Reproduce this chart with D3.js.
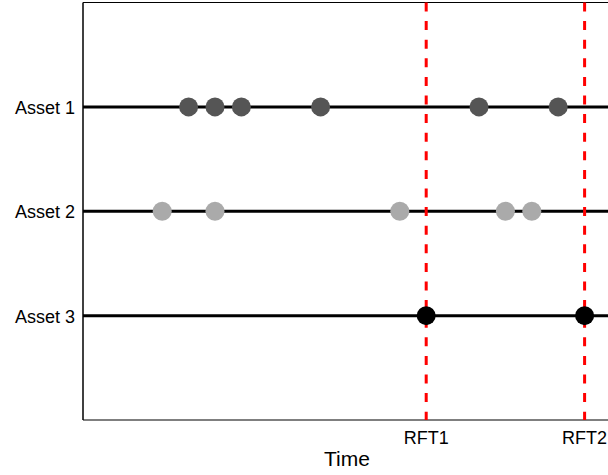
<!DOCTYPE html>
<html>
<head>
<meta charset="utf-8">
<script src="https://cdn.jsdelivr.net/npm/d3@7"></script>
<style>
html,body{margin:0;padding:0;background:#fff;overflow:hidden;}
svg{display:block;font-family:"Liberation Sans",Arial,sans-serif;}
</style>
</head>
<body>
<script>
// Data
const assets = ["Asset 1", "Asset 2", "Asset 3"];
const assetColors = ["#555555", "#aaaaaa", "#000000"];
const asset1Times = [4, 5, 6, 9, 15, 18];
const asset2Times = [3, 5, 12, 16, 17];
const asset3Times = [13, 19];
const rftTimes = [13, 19];
const rftLabels = ["RFT1", "RFT2"];
const xLabel = "Time";

const W = 608, H = 475;
const svg = d3.select("body").append("svg").attr("width", W).attr("height", H);

const x = d3.scaleLinear().domain([0, 20]).range([83, 611]);
const y = d3.scaleLinear().domain([0, 4]).range([2.5, 420]);

const series = [asset1Times, asset2Times, asset3Times];

// frame: top and bottom border
svg.append("line").attr("x1", x(0)).attr("x2", x(20)).attr("y1", y(0)).attr("y2", y(0))
  .attr("stroke", "#000").attr("stroke-width", 1.2);
svg.append("line").attr("x1", x(0)).attr("x2", x(20)).attr("y1", y(4)).attr("y2", y(4))
  .attr("stroke", "#000").attr("stroke-width", 1.2);
svg.append("line").attr("x1", x(0)).attr("x2", x(0)).attr("y1", y(0)).attr("y2", y(4))
  .attr("stroke", "#000").attr("stroke-width", 1.5);

// asset lines
svg.selectAll("line.asset").data(assets).join("line").attr("class", "asset")
  .attr("x1", x(0)).attr("x2", x(20))
  .attr("y1", (d, i) => y(i + 1)).attr("y2", (d, i) => y(i + 1))
  .attr("stroke", "#000").attr("stroke-width", 3);

// asset labels
svg.selectAll("text.alabel").data(assets).join("text").attr("class", "alabel")
  .attr("x", x(0) - 8).attr("y", (d, i) => y(i + 1) + 7)
  .attr("text-anchor", "end").attr("font-size", 18).attr("fill", "#000")
  .text(d => d);

// RFT dashed lines
svg.selectAll("line.rft").data(rftTimes).join("line").attr("class", "rft")
  .attr("x1", d => x(d)).attr("x2", d => x(d))
  .attr("y1", y(0)).attr("y2", y(4))
  .attr("stroke", "#ff0000").attr("stroke-width", 3)
  .attr("stroke-dasharray", "9,9.6");

// RFT labels
svg.selectAll("text.rlabel").data(rftTimes).join("text").attr("class", "rlabel")
  .attr("x", d => x(d)).attr("y", 444)
  .attr("text-anchor", "middle").attr("font-size", 18).attr("fill", "#000")
  .text((d, i) => rftLabels[i]);

// dots
series.forEach((times, i) => {
  svg.append("g").selectAll("circle").data(times).join("circle")
    .attr("cx", d => x(d)).attr("cy", y(i + 1)).attr("r", 9.5)
    .attr("fill", assetColors[i]);
});

// x label
svg.append("text").attr("x", (x(0) + x(20)) / 2).attr("y", 466)
  .attr("text-anchor", "middle").attr("font-size", 21).attr("fill", "#000")
  .text(xLabel);
</script>
</body>
</html>
